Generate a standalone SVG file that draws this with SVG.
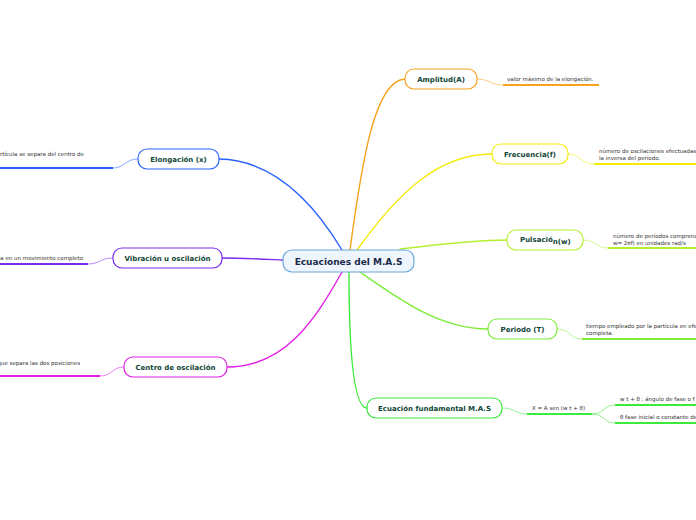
<svg xmlns="http://www.w3.org/2000/svg" width="696" height="520" viewBox="0 0 696 520">
<style>
.n{fill:#fff;stroke-width:1.2}
.nt{font-family:"DejaVu Sans",Verdana,sans-serif;font-weight:bold;font-size:7px;fill:#0f4536;text-anchor:middle}
.st{text-anchor:start}
.lt{font-family:"DejaVu Sans",Verdana,sans-serif;font-size:5.5px;fill:#333}
.c{fill:none;stroke-width:1.4;stroke-linecap:round}
.s{fill:none;stroke-width:1;opacity:.55}
.u{fill:none;stroke-width:2}
</style>
<rect width="696" height="520" fill="#fff"/>
<g id="connectors">
<path class="c" stroke="#2a62ff" d="M342,250 C315,205 275,160 219,159"/>
<path class="c" stroke="#7a2cf0" d="M283,260 C260,259 240,258 222,258"/>
<path class="c" stroke="#e31ee6" d="M342,272 C315,320 285,367 227,367"/>
<path class="c" stroke="#f7a21b" d="M350,250 C362,160 375,80 405,79"/>
<path class="c" stroke="#f5ea0a" d="M357,250 C400,190 440,154 492,154"/>
<path class="c" stroke="#b3f02e" d="M400,249 C450,243 480,240 507,240"/>
<path class="c" stroke="#7ded3a" d="M360,272 C400,300 440,329 488,329"/>
<path class="c" stroke="#3bea3b" d="M349,272 C349,340 352,408 367,408"/>
<path class="s" stroke="#2a62ff" d="M138,159 C125,159 125,168 113,168"/>
<path class="u" stroke="#2a62ff" d="M0,168 H113"/>
<path class="s" stroke="#7a2cf0" d="M113,258 C100,258 100,264 88,264"/>
<path class="u" stroke="#7a2cf0" d="M0,264 H88"/>
<path class="s" stroke="#e31ee6" d="M124,367 C112,367 112,376 100,376"/>
<path class="u" stroke="#e31ee6" d="M0,376 H100"/>
<path class="s" stroke="#f7a21b" d="M477,79 C490,79 490,85 503,85"/>
<path class="u" stroke="#f7a21b" d="M503,85 H599"/>
<path class="s" stroke="#f5ea0a" d="M568,154 C581,154 581,164 594,164"/>
<path class="u" stroke="#f5ea0a" d="M594,164 H696"/>
<path class="s" stroke="#b3f02e" d="M583,240 C596,240 596,248 608,248"/>
<path class="u" stroke="#b3f02e" d="M608,248 H696"/>
<path class="s" stroke="#7ded3a" d="M557,329 C570,329 570,339 582,339"/>
<path class="u" stroke="#7ded3a" d="M582,339 H696"/>
<path class="s" stroke="#3bea3b" d="M502,408 C515,408 515,414 527,414"/>
<path class="u" stroke="#3bea3b" d="M527,414 H592"/>
<path class="s" stroke="#3bea3b" d="M592,414 C604,414 604,405 615,405"/>
<path class="s" stroke="#3bea3b" d="M592,414 C604,414 604,423 615,423"/>
<path class="u" stroke="#3bea3b" d="M615,405 H696"/>
<path class="u" stroke="#3bea3b" d="M615,423 H696"/>
</g>
<g id="center">
<rect x="283" y="250" width="131" height="22" rx="9" fill="#eef5fc" stroke="#6aa8d8" stroke-width="1.2"/>
<text x="348.5" y="264.5" class="nt" style="font-size:9px;fill:#1b2a4a">Ecuaciones del M.A.S</text>
</g>
<g id="elongacion">
<rect class="n" x="138" y="149" width="81" height="20" rx="9" stroke="#2a62ff"/>
<text class="nt" x="178.5" y="161.5">Elongación (x)</text>
<text class="lt" x="84" y="156" text-anchor="end">rtícula se separa del centro de</text>
</g>
<g id="vibracion">
<rect class="n" x="113" y="248" width="109" height="20" rx="9" stroke="#7a2cf0"/>
<text class="nt" x="167.5" y="260.5">Vibración u oscilación</text>
<text class="lt" x="83" y="260" text-anchor="end">la en un movimiento completo</text>
</g>
<g id="centro">
<rect class="n" x="124" y="357" width="103" height="20" rx="9" stroke="#e31ee6"/>
<text class="nt" x="175.5" y="369.5">Centro de oscilación</text>
<text class="lt" x="80" y="365" text-anchor="end">que separa las dos posiciones</text>
</g>
<g id="amplitud">
<rect class="n" x="405" y="69" width="72" height="20" rx="9" stroke="#f7a21b"/>
<text class="nt" x="441" y="81.5">Amplitud(A)</text>
<text class="lt" x="507" y="80.5">valor máximo de la elongación.</text>
</g>
<g id="frecuencia">
<rect class="n" x="492" y="144" width="76" height="20" rx="9" stroke="#f5ea0a"/>
<text class="nt" x="530" y="156.5">Frecuencia(f)</text>
<text class="lt" x="599" y="152.5">número de oscilaciones efectuadas</text>
<text class="lt" x="599" y="159.5">la inversa del período.</text>
</g>
<g id="pulsacion">
<rect class="n" x="507" y="230" width="76" height="20" rx="9" stroke="#b3f02e"/>
<text class="nt st" x="520" y="241.5">Pulsació<tspan dy="2">n(w)</tspan></text>
<text class="lt" x="613" y="238">número de períodos comprend</text>
<text class="lt" x="613" y="245">w= 2πf) en unidades rad/s</text>
</g>
<g id="periodo">
<rect class="n" x="488" y="319" width="69" height="20" rx="9" stroke="#7ded3a"/>
<text class="nt" x="522.5" y="331.5">Periodo (T)</text>
<text class="lt" x="586" y="327.5">tiempo empleado por la partícula en efe</text>
<text class="lt" x="586" y="334.5">completa.</text>
</g>
<g id="ecuacion">
<rect class="n" x="367" y="398" width="135" height="20" rx="9" stroke="#3bea3b"/>
<text class="nt" x="434.5" y="410.5">Ecuación fundamental M.A.S</text>
<text class="lt" x="532" y="410">X = A sen (w t + θ)</text>
<text class="lt" x="620" y="401">w t + θ : ángulo de fase o f</text>
<text class="lt" x="620" y="419">θ fase inicial o constante de</text>
</g>
</svg>
